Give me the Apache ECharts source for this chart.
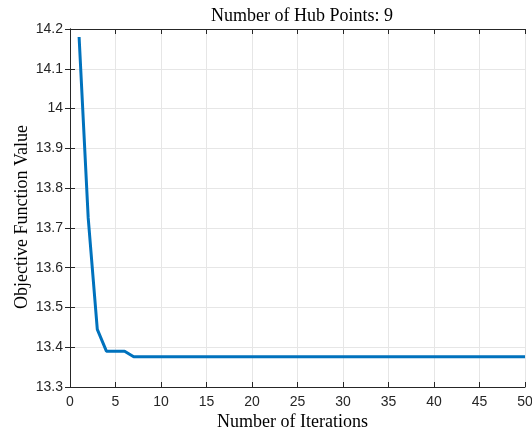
<!DOCTYPE html>
<html>
<head>
<meta charset="utf-8">
<script src="https://cdn.jsdelivr.net/npm/echarts@6/dist/echarts.min.js"></script>
<style>
  html, body { margin: 0; padding: 0; background: #fff; }
  #chart { width: 532px; height: 434px; }
</style>
</head>
<body>
<div id="chart"></div>
<script>
// Convergence of the objective over optimisation iterations
const iterations = [1, 2, 3, 4, 5, 6, 7, 8, 9, 10,
  11, 12, 13, 14, 15, 16, 17, 18, 19, 20,
  21, 22, 23, 24, 25, 26, 27, 28, 29, 30,
  31, 32, 33, 34, 35, 36, 37, 38, 39, 40,
  41, 42, 43, 44, 45, 46, 47, 48, 49, 50];
const objectiveValues = [14.18, 13.725, 13.445, 13.39, 13.39, 13.39, 13.376, 13.376, 13.376, 13.376,
  13.376, 13.376, 13.376, 13.376, 13.376, 13.376, 13.376, 13.376, 13.376, 13.376,
  13.376, 13.376, 13.376, 13.376, 13.376, 13.376, 13.376, 13.376, 13.376, 13.376,
  13.376, 13.376, 13.376, 13.376, 13.376, 13.376, 13.376, 13.376, 13.376, 13.376,
  13.376, 13.376, 13.376, 13.376, 13.376, 13.376, 13.376, 13.376, 13.376, 13.376];
const xTicks = { min: 0, max: 50, step: 5 };
const yTicks = { min: 13.3, max: 14.2, step: 0.1 };
const titleText = 'Number of Hub Points: 9';
const xName = 'Number of Iterations';
const yName = 'Objective Function Value';

const chart = echarts.init(document.getElementById('chart'), null, { renderer: 'canvas' });

const axisColor = '#262626';
const gridColor = '#e6e6e6';
const serif = '"Liberation Serif", "Times New Roman", serif';
const sans = '"Liberation Sans", Arial, sans-serif';

const fmtY = v => String(+v.toFixed(1));

const frameAxis = {
  axisLine: { show: true, lineStyle: { color: axisColor, width: 1 } },
  axisTick: { show: true, inside: true, length: 5, lineStyle: { color: axisColor } },
  axisLabel: { show: false },
  splitLine: { show: false }
};

chart.setOption({
  animation: false,
  title: {
    text: titleText,
    left: 297,
    textAlign: 'center',
    top: 2,
    textStyle: { fontFamily: serif, fontSize: 18, fontWeight: 'normal', color: '#000' }
  },
  grid: { left: 70, right: 7, top: 29, bottom: 47, containLabel: false, outerBoundsMode: 'none' },
  xAxis: [
    {
      type: 'value', min: xTicks.min, max: xTicks.max, interval: xTicks.step,
      name: xName, nameLocation: 'middle', nameGap: 26, nameMoveOverlap: false,
      nameTextStyle: { fontFamily: serif, fontSize: 18, color: '#000', padding: [0, 10, 0, 0] },
      axisLine: { show: true, onZero: false, lineStyle: { color: axisColor, width: 1 } },
      axisTick: { show: true, inside: true, length: 5, lineStyle: { color: axisColor } },
      axisLabel: { fontFamily: sans, fontSize: 14, color: '#262626', margin: 8 },
      splitLine: { show: true, lineStyle: { color: gridColor, width: 1 } }
    },
    Object.assign({ type: 'value', position: 'top', min: xTicks.min, max: xTicks.max, interval: xTicks.step }, frameAxis)
  ],
  yAxis: [
    {
      type: 'value', min: yTicks.min, max: yTicks.max, interval: yTicks.step,
      name: yName, nameLocation: 'middle', nameGap: 39, nameRotate: 90, nameMoveOverlap: false,
      nameTextStyle: { fontFamily: serif, fontSize: 18, color: '#000', padding: [0, 18, 0, 0] },
      axisLine: { show: true, onZero: false, lineStyle: { color: axisColor, width: 1 } },
      axisTick: { show: true, inside: true, length: 5, lineStyle: { color: axisColor } },
      axisLabel: { fontFamily: sans, fontSize: 14, color: '#262626', margin: 7, formatter: fmtY },
      splitLine: { show: true, lineStyle: { color: gridColor, width: 1 } }
    },
    Object.assign({ type: 'value', position: 'right', min: yTicks.min, max: yTicks.max, interval: yTicks.step }, frameAxis)
  ],
  series: [{
    type: 'line',
    data: iterations.map((it, i) => [it, objectiveValues[i]]),
    showSymbol: false,
    symbol: 'none',
    lineStyle: { color: '#0072BD', width: 3 },
    clip: true
  }]
});
</script>
</body>
</html>
